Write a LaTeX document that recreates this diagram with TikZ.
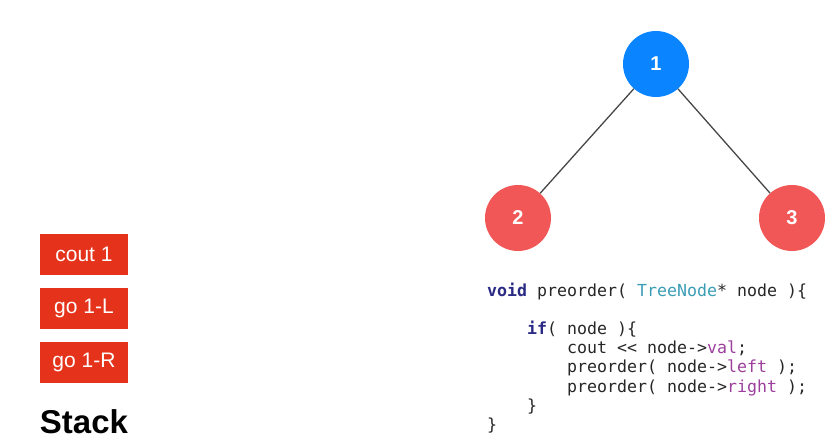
\documentclass[tikz,border=0pt]{standalone}
\usepackage{fontspec}
\setmainfont{Liberation Sans}
\newfontfamily\codefont{DejaVu Sans Mono}

\definecolor{rootblue}{HTML}{0A84FF}
\definecolor{leafred}{HTML}{F25757}
\definecolor{stackred}{HTML}{E5331B}
\definecolor{kwnavy}{HTML}{2A2A85}
\definecolor{typeteal}{HTML}{3A9DB5}
\definecolor{fieldpurple}{HTML}{9C3F9C}
\definecolor{codegray}{HTML}{262626}

\newcommand{\kw}[1]{\textcolor{kwnavy}{\bfseries #1}}
\newcommand{\tn}[1]{\textcolor{typeteal}{#1}}
\newcommand{\fd}[1]{\textcolor{fieldpurple}{#1}}

\tikzset{
  treenode/.style={circle,minimum size=66pt,inner sep=0pt,text=white,font=\fontsize{20}{20}\selectfont\bfseries},
  stackbox/.style={fill=stackred,text=white,minimum width=88pt,minimum height=41pt,inner sep=0pt,font=\fontsize{21}{21}\selectfont},
  codeline/.style={anchor=base west,inner sep=0pt,text=codegray,font=\fontsize{16.6}{16.6}\codefont}
}

\begin{document}
\begin{tikzpicture}[x=1pt,y=-1pt]
  \useasboundingbox (0,0) rectangle (825,446);

  \coordinate (r)  at (656, 64);
  \coordinate (l)  at (518, 218);
  \coordinate (rr) at (792, 218);

  % tree
  \node[treenode,fill=rootblue] (n1) at (r) {1};
  \node[treenode,fill=leafred] (n2) at (l) {2};
  \node[treenode,fill=leafred] (n3) at (rr) {3};

  \draw[draw=black!72,line width=1.3pt] (n1) -- (n2);
  \draw[draw=black!72,line width=1.3pt] (n1) -- (n3);

  % stack
  \node[stackbox] (s1) at (84, 254.5) {cout 1};
  \node[stackbox] (s2) at (84, 308.5) {go 1-L};
  \node[stackbox] (s3) at (84, 362.5) {go 1-R};
  \node[anchor=base,inner sep=0pt,font=\fontsize{33}{33}\selectfont\bfseries] (st) at (84, 433) {Stack};

  % code
  \node[codeline] (c1) at (487, 297) {\kw{void} preorder( \tn{TreeNode}* node )\{};
  \node[codeline] (c2) at (527, 335) {\kw{if}( node )\{};
  \node[codeline] (c3) at (567, 354) {cout << node->\fd{val};};
  \node[codeline] (c4) at (567, 373) {preorder( node->\fd{left} );};
  \node[codeline] (c5) at (567, 392) {preorder( node->\fd{right} );};
  \node[codeline] (c6) at (527, 411) {\}};
  \node[codeline] (c7) at (487, 430) {\}};
\end{tikzpicture}
\end{document}
